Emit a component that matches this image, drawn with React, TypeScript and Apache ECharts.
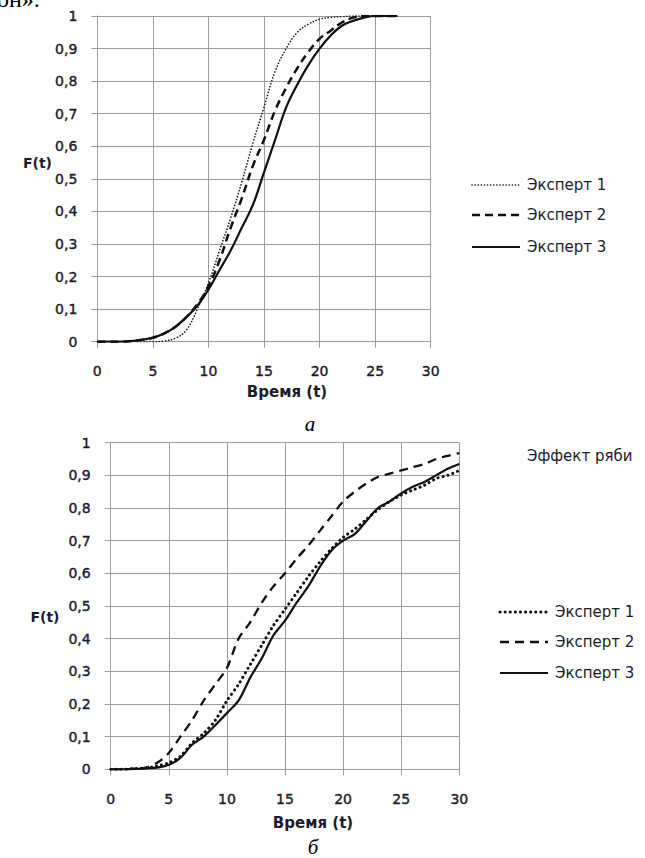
import React, { useEffect, useRef } from "react";
import * as echarts from "echarts";

// ---- top chart (а) ----
const tTop = [0, 1, 2, 3, 4, 5, 6, 7, 8, 9, 10, 11, 12, 13, 14, 15, 16, 17, 18, 19, 20, 21, 22, 23, 24, 25, 26, 27];
const topExpert1 = [0, 0, 0, 0, 0, 0, 0.002, 0.01, 0.035, 0.1, 0.18, 0.28, 0.38, 0.49, 0.61, 0.72, 0.83, 0.9, 0.95, 0.975, 0.99, 0.996, 0.998, 1, 1, 1, 1, 1];
const topExpert2 = [0, 0, 0, 0.002, 0.006, 0.012, 0.025, 0.045, 0.075, 0.115, 0.17, 0.25, 0.35, 0.44, 0.54, 0.62, 0.71, 0.78, 0.84, 0.89, 0.93, 0.955, 0.98, 0.995, 1, 1, 1, 1];
const topExpert3 = [0, 0, 0, 0.002, 0.006, 0.012, 0.025, 0.045, 0.075, 0.11, 0.16, 0.22, 0.28, 0.35, 0.42, 0.52, 0.62, 0.72, 0.79, 0.85, 0.9, 0.94, 0.97, 0.985, 0.995, 1, 1, 1];

// ---- bottom chart (б) ----
const tBottom = [0, 1, 2, 3, 4, 5, 6, 7, 8, 9, 10, 11, 12, 13, 14, 15, 16, 17, 18, 19, 20, 21, 22, 23, 24, 25, 26, 27, 28, 29, 30];
const botExpert1 = [0, 0, 0.002, 0.004, 0.01, 0.02, 0.04, 0.08, 0.11, 0.15, 0.21, 0.26, 0.32, 0.38, 0.44, 0.49, 0.54, 0.59, 0.635, 0.675, 0.71, 0.735, 0.765, 0.795, 0.82, 0.84, 0.855, 0.87, 0.89, 0.9, 0.915];
const botExpert2 = [0, 0, 0.002, 0.005, 0.02, 0.05, 0.1, 0.15, 0.21, 0.26, 0.31, 0.4, 0.45, 0.51, 0.56, 0.6, 0.645, 0.685, 0.73, 0.775, 0.82, 0.85, 0.875, 0.895, 0.905, 0.915, 0.925, 0.935, 0.95, 0.96, 0.968];
const botExpert3 = [0, 0, 0.001, 0.003, 0.005, 0.014, 0.035, 0.075, 0.1, 0.135, 0.172, 0.21, 0.28, 0.34, 0.41, 0.455, 0.51, 0.56, 0.62, 0.67, 0.7, 0.72, 0.76, 0.8, 0.82, 0.845, 0.865, 0.88, 0.9, 0.92, 0.935];

const seriesNames = ["Эксперт 1", "Эксперт 2", "Эксперт 3"];
const xTitle = "Время (t)";
const yTitle = "F(t)";

const GRID = "#9d9d9d";
const TEXT = "#1c1c2a";
const FONT = "DejaVu Sans";

const fmtY = (v: number) => String(Math.round(v * 10) / 10).replace(".", ",");

function axisPair(gridIndex: number, labelMargin: number) {
  const label = {
    color: TEXT,
    fontFamily: FONT,
    fontSize: 14,
    textBorderColor: TEXT,
    textBorderWidth: 0.4,
  };
  const x = {
    type: "value",
    gridIndex,
    min: 0,
    max: 30,
    interval: 5,
    axisLine: { show: true, lineStyle: { color: GRID, width: 1 } },
    axisTick: { show: true, length: 6, lineStyle: { color: GRID } },
    splitLine: { show: true, lineStyle: { color: GRID, width: 1 } },
    axisLabel: { ...label, margin: labelMargin },
  };
  const y = {
    type: "value",
    gridIndex,
    min: 0,
    max: 1,
    interval: 0.1,
    axisLine: { show: true, lineStyle: { color: GRID, width: 1 } },
    axisTick: { show: true, length: 6, lineStyle: { color: GRID } },
    splitLine: { show: true, lineStyle: { color: GRID, width: 1 } },
    axisLabel: { ...label, margin: 20, formatter: fmtY },
  };
  return { x, y };
}

const dottedTop = { color: "#111", width: 1.6, type: [0.1, 3], cap: "round" };
const dashedTop = { color: "#111", width: 2.5, type: [8, 5] };
const solidTop = { color: "#111", width: 2.2, type: "solid" };
const dottedBot = { color: "#111", width: 3, type: [0.1, 5], cap: "round" };
const dashedBot = { color: "#111", width: 2.3, type: [9, 6] };
const solidBot = { color: "#111", width: 2.2, type: "solid" };

function legendGraphics(x1: number, x2: number, tx: number, ys: number[], styles: any[]) {
  const out: any[] = [];
  ys.forEach((y, i) => {
    const s = styles[i];
    out.push({
      type: "line",
      shape: { x1, y1: y, x2, y2: y },
      style: {
        stroke: s.color,
        lineWidth: s.width,
        lineDash: Array.isArray(s.type) ? s.type : null,
        lineCap: s.cap || "butt",
      },
    });
    out.push({
      type: "text",
      x: tx,
      y,
      style: { text: seriesNames[i], fill: TEXT, font: `15px "${FONT}"`, verticalAlign: "middle" },
    });
  });
  return out;
}

export default function App() {
  const ref = useRef<HTMLDivElement>(null);
  useEffect(() => {
    if (!ref.current) return;
    const chart = echarts.init(ref.current, undefined, { renderer: "svg" });
    const a0 = axisPair(0, 22);
    const a1 = axisPair(1, 23);
    const mk = (name: string, xi: number, ts: number[], vals: number[], ls: any, smooth: any) => ({
      type: "line",
      name,
      xAxisIndex: xi,
      yAxisIndex: xi,
      data: ts.map((t, i) => [t, vals[i]]),
      symbol: "none",
      smooth,
      lineStyle: ls,
      z: 3,
    });
    const titleFont = `bold 15px "${FONT}"`;
    chart.setOption({
      animation: false,
      backgroundColor: "#fff",
      grid: [
        { left: 97.3, top: 16, width: 333.4, height: 325.7 },
        { left: 110.7, top: 442.7, width: 348.6, height: 326.6 },
      ],
      xAxis: [a0.x, a1.x],
      yAxis: [a0.y, a1.y],
      series: [
        mk(seriesNames[0], 0, tTop, topExpert1, dottedTop, 0.4),
        mk(seriesNames[1], 0, tTop, topExpert2, dashedTop, 0.4),
        mk(seriesNames[2], 0, tTop, topExpert3, solidTop, 0.4),
        mk(seriesNames[0], 1, tBottom, botExpert1, dottedBot, 0.3),
        mk(seriesNames[1], 1, tBottom, botExpert2, dashedBot, 0.3),
        mk(seriesNames[2], 1, tBottom, botExpert3, solidBot, 0.3),
      ],
      graphic: [
        {
          type: "text",
          x: -3,
          y: 11,
          style: { text: "он».", fill: "#000", font: '24px "Liberation Serif"', verticalAlign: "bottom" },
        },
        // top chart titles
        { type: "text", x: 37.5, y: 163, style: { text: yTitle, fill: TEXT, font: `bold 14px "${FONT}"`, align: "center", verticalAlign: "middle" } },
        { type: "text", x: 287, y: 392, style: { text: xTitle, fill: TEXT, font: titleFont, align: "center", verticalAlign: "middle" } },
        { type: "text", x: 310, y: 424, style: { text: "а", fill: "#000", font: 'italic 21px "Liberation Serif"', align: "center", verticalAlign: "middle" } },
        // bottom chart titles
        { type: "text", x: 45, y: 617, style: { text: yTitle, fill: TEXT, font: `bold 14px "${FONT}"`, align: "center", verticalAlign: "middle" } },
        { type: "text", x: 313, y: 823, style: { text: xTitle, fill: TEXT, font: titleFont, align: "center", verticalAlign: "middle" } },
        { type: "text", x: 313, y: 847, style: { text: "б", fill: "#000", font: 'italic 21px "Liberation Serif"', align: "center", verticalAlign: "middle" } },
        { type: "text", x: 527, y: 456, style: { text: "Эффект ряби", fill: TEXT, font: `15px "${FONT}"`, verticalAlign: "middle" } },
        ...legendGraphics(472, 520, 527, [185, 215, 247], [dottedTop, dashedTop, solidTop]),
        ...legendGraphics(500, 548, 555, [612, 642, 673], [dottedBot, dashedBot, solidBot]),
      ],
    });
    return () => chart.dispose();
  }, []);
  return <div ref={ref} style={{ position: "absolute", left: 0, top: 0, width: 645, height: 858 }} />;
}
